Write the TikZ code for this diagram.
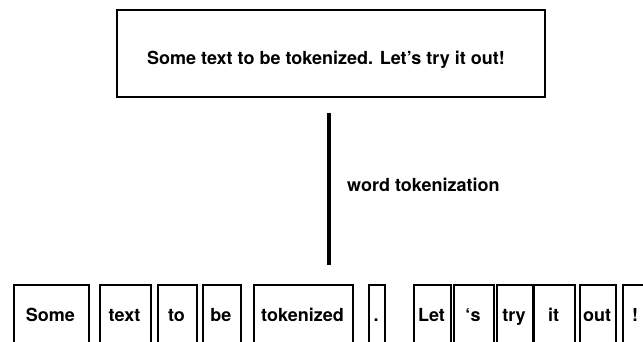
\documentclass[tikz,border=0pt]{standalone}
\usepackage{fontspec}
\setmainfont{TeX Gyre Heros}
\begin{document}
\begin{tikzpicture}[x=1pt,y=-1pt,
  lbl/.style={font=\fontsize{18}{20}\selectfont\bfseries, inner sep=0pt},
  tok/.style={draw, line width=1.8pt, anchor=north west, inner sep=0pt,
    minimum height=70pt}]
  \useasboundingbox (0,0) rectangle (643,342);
  \clip (0,0) rectangle (643,342);

  % source sentence
  \node[draw, line width=1.8pt, minimum width=428pt, minimum height=87pt,
        inner sep=0pt] (src) at (331,53.5) {};
  \node[lbl, anchor=base] (srctext) at (326,64.5) {Some text to be tokenized. Let’s try it out!};

  % tokenization step
  \coordinate (stepEnd) at (329,265);
  \draw[line width=3.5pt] (src.south -| stepEnd) ++(0,15) coordinate (stepStart)
        (stepStart) -- (stepEnd);
  \node[lbl, anchor=base west] (steplabel) at (347,192) {word tokenization};

  % tokens: name, left edge, width, text x, text
  \newcommand\tokbox[5]{%
    \node[tok, minimum width=#3pt] (#1) at (#2,284) {};
    \node[lbl, anchor=base] at (#4,321) {#5};}
  \tokbox{t1}{13}{75}{50.5}{Some}
  \tokbox{t2}{99}{51}{124.5}{text}
  \tokbox{t3}{157}{39}{176.5}{to}
  \tokbox{t4}{202}{38}{221}{be}
  \tokbox{t5}{253}{99}{302.5}{tokenized}
  \tokbox{t6}{368}{16}{376}{.}
  \tokbox{t7}{413}{37}{431.5}{Let}
  \tokbox{t8}{453}{40}{473}{‘s}
  \tokbox{t9}{496}{36}{514}{try}
  \tokbox{t10}{533}{41}{553.5}{it}
  \tokbox{t11}{579}{36}{597}{out}
  \tokbox{t12}{622}{40}{635}{!}
\end{tikzpicture}
\end{document}
